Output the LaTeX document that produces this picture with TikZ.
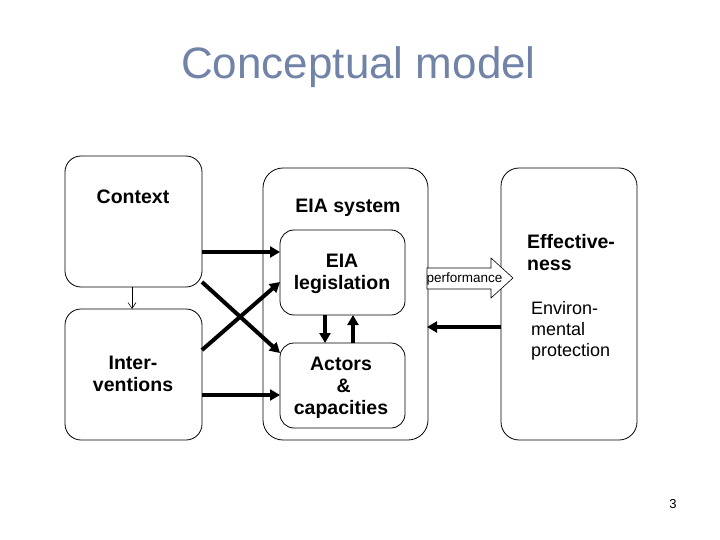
\documentclass[tikz,border=0pt]{standalone}
\usepackage{fontspec}
\setmainfont{Liberation Sans}
\usetikzlibrary{arrows.meta}
\definecolor{titleblue}{RGB}{114,131,168}
\begin{document}
\begin{tikzpicture}[x=1pt,y=-1pt,
  box/.style={draw=black,line width=0.8pt,rounded corners=16pt,fill=white},
  bigarrow/.style={line width=4pt,-{Triangle[length=10pt,width=11pt]}},
  thinarrow/.style={line width=0.6pt,-{Straight Barb[length=6pt,width=8pt]}},
  bold/.style={font=\fontsize{19.5}{22}\selectfont\bfseries,align=center,inner sep=0pt},
  plain/.style={font=\fontsize{18}{21}\selectfont,align=left,inner sep=0pt}]
\useasboundingbox (0,0) rectangle (720,540);
\fill[white] (0,0) rectangle (720,540);
% title
\node[font=\fontsize{44}{50}\selectfont,text=titleblue,inner sep=0pt] (title) at (358.5,67) {Conceptual model};
% boxes
\draw[box] (65,156) rectangle (202,287);
\coordinate (ctxS) at (132,287);
\draw[box] (65,309) rectangle (202,440);
\coordinate (intN) at (132,309);
\draw[box,rounded corners=20pt] (263,168) rectangle (428,440);
\draw[box,rounded corners=14pt] (280,230) rectangle (405,315);
\draw[box,rounded corners=14pt] (280,343) rectangle (405,428);
\draw[box,rounded corners=18pt] (501,168) rectangle (637,440);
% box anchors
\coordinate (ctxE1) at (202,252);
\coordinate (ctxE2) at (202,282);
\coordinate (intE1) at (202,350);
\coordinate (intE2) at (202,395);
\coordinate (legW1) at (280,252);
\coordinate (legW2) at (280,282);
\coordinate (actW1) at (280,353);
\coordinate (actW2) at (280,395);
\coordinate (legS1) at (325,315);
\coordinate (actN1) at (325,343);
\coordinate (legS2) at (353,315);
\coordinate (actN2) at (353,343);
\coordinate (sysE) at (427,327);
\coordinate (effW) at (501,327);
% texts
\node[bold] (context) at (133,196.5) {Context};
\node[bold] (eiasys) at (348,208) {EIA system};
\node[bold] (leg) at (342,274) {EIA\\legislation};
\node[bold] (interv) at (133,374) {Inter-\\ventions};
\node[bold] (actors) at (341,387.5) {Actors\\\ \&\\capacities};
\node[bold,align=left,anchor=west] (eff) at (527,252.5) {Effective-\\ness};
\node[plain,anchor=west] (env) at (531,330.5) {Environ-\\mental\\protection};
% connectors
\draw[thinarrow] (ctxS) -- (intN);
\draw[bigarrow] (ctxE1) -- (legW1);
\draw[bigarrow] (ctxE2) -- (actW1);
\draw[bigarrow] (intE1) -- (legW2);
\draw[bigarrow] (intE2) -- (actW2);
\draw[bigarrow] (legS1) -- (actN1);
\draw[bigarrow] (actN2) -- (legS2);
\draw[bigarrow] (effW) -- (sysE);
% performance arrow
\draw[line width=0.6pt,fill=white] (427,268) -- (491,268) -- (491,258) -- (513,278) -- (491,298) -- (491,289) -- (427,289) -- cycle;
\node[font=\fontsize{13.5}{15}\selectfont,inner sep=0pt] (perf) at (464.5,279.5) {performance};
\node[font=\fontsize{13}{15}\selectfont,inner sep=0pt] (pagenum) at (673,504) {3};
\end{tikzpicture}
\end{document}
